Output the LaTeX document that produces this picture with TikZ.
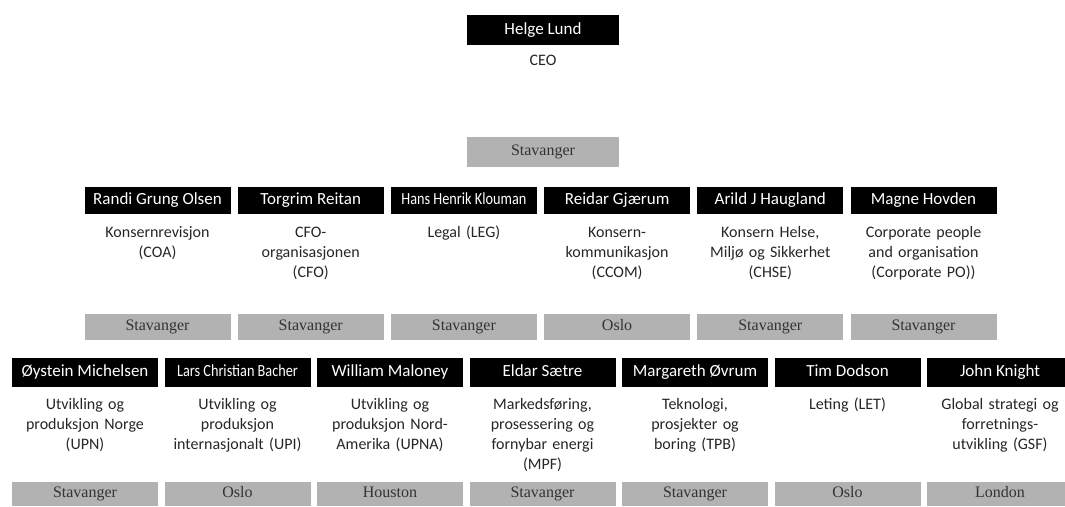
\documentclass[tikz,border=0pt]{standalone}
\usepackage{fontspec}
\usepackage{graphicx}
\setmainfont{Carlito}
\newfontfamily\locfamily{Liberation Serif}
\newcommand{\squeeze}[1]{\scalebox{0.84}[1]{#1}}
\tikzset{
  namebox/.style={fill=black, text=white, font=\fontsize{17}{20}\selectfont, minimum width=146pt, minimum height=27pt, inner sep=0pt, text height=12pt, text depth=4pt},
  descbox/.style={font=\fontsize{16}{20}\selectfont, align=center, text width=150pt, inner sep=0pt, anchor=base, text=black!85},
  locbox/.style={fill=black!30, font=\locfamily\fontsize{16}{18}\selectfont, text=black!80, minimum width=146pt, minimum height=26pt, inner sep=0pt, text height=11pt, text depth=3.5pt}
}
\begin{document}
\begin{tikzpicture}[x=1pt,y=-1pt]
\useasboundingbox (0,0) rectangle (1065,506);
% CEO
\node[namebox, minimum width=152pt, minimum height=30pt] (ceo) at (543,30) {Helge Lund};
\node[descbox] (ceod) at (543,65) {CEO};
\node[locbox, minimum width=152pt, minimum height=30pt] (ceol) at (543,152) {Stavanger};
% Row 1
\foreach \i/\nm/\ds/\lc in {
  0/{Randi Grung Olsen}/{Konsernrevisjon\\(COA)}/Stavanger,
  1/{Torgrim Reitan}/{CFO-\\organisasjonen\\(CFO)}/Stavanger,
  2/{\squeeze{Hans Henrik Klouman}}/{Legal (LEG)}/Stavanger,
  3/{Reidar Gjærum}/{Konsern-\\kommunikasjon\\(CCOM)}/Oslo,
  4/{Arild J Haugland}/{Konsern Helse,\\Miljø og Sikkerhet\\(CHSE)}/Stavanger,
  5/{Magne Hovden}/{Corporate people\\and organisation\\(Corporate PO))}/Stavanger}{
  \pgfmathsetmacro{\cx}{157.5+\i*153.2}
  \node[namebox] (a\i) at (\cx,200) {\nm};
  \node[descbox] (ad\i) at (\cx,237) {\ds};
  \node[locbox] (al\i) at (\cx,327) {\lc};
}
% Row 2
\foreach \i/\nm/\ds/\lc in {
  0/{Øystein Michelsen}/{Utvikling og\\produksjon Norge\\(UPN)}/Stavanger,
  1/{\squeeze{Lars Christian Bacher}}/{Utvikling og\\produksjon\\internasjonalt (UPI)}/Oslo,
  2/{William Maloney}/{Utvikling og\\produksjon Nord-\\Amerika (UPNA)}/Houston,
  3/{Eldar Sætre}/{Markedsføring,\\prosessering og\\fornybar energi\\(MPF)}/Stavanger,
  4/{Margareth Øvrum}/{Teknologi,\\prosjekter og\\boring (TPB)}/Stavanger,
  5/{Tim Dodson}/{Leting (LET)}/Oslo,
  6/{John Knight}/{Global strategi og\\forretnings-\\utvikling (GSF)}/London}{
  \pgfmathsetmacro{\cx}{85+\i*152.5}
  \node[namebox, minimum height=29pt] (b\i) at (\cx,372.5) {\nm};
  \node[descbox] (bd\i) at (\cx,409) {\ds};
  \node[locbox, minimum height=24pt] (bl\i) at (\cx,494) {\lc};
}
\end{tikzpicture}
\end{document}
